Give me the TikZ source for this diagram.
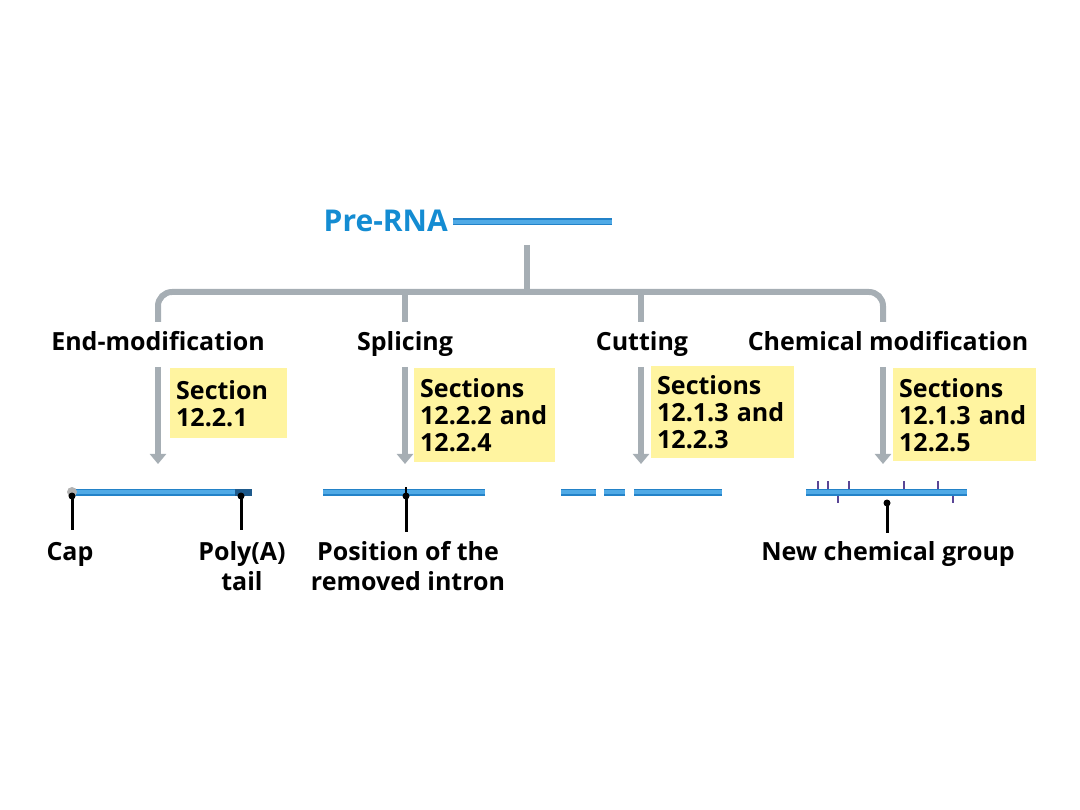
\documentclass[tikz,border=0pt]{standalone}
\usepackage{fontspec}
\setmainfont{Open Sans}
\usetikzlibrary{arrows.meta}
\definecolor{rnablue}{RGB}{35,130,200}
\definecolor{rnalight}{RGB}{80,170,230}
\definecolor{titleblue}{RGB}{20,140,210}
\definecolor{flowgray}{RGB}{166,174,180}
\definecolor{secyellow}{RGB}{255,244,160}
\definecolor{tickpurple}{RGB}{90,70,150}
\definecolor{polyadark}{RGB}{30,90,140}
\tikzset{
  lbl/.style={font=\fontsize{25}{30}\selectfont\bfseries, inner sep=0pt, anchor=base},
  secbox/.style={fill=secyellow, anchor=north west, align=left, inner xsep=6pt, inner ysep=3pt,
    font=\fontsize{25}{27}\selectfont\bfseries, text width=#1},
  flow/.style={draw=flowgray, line width=6pt},
  flowarrow/.style={draw=flowgray, line width=6pt, -{Triangle[width=16pt,length=10pt]}},
  pin/.style={line width=3pt, black},
}
\newcommand{\rnastrand}[2]{%
  \draw[rnablue, line width=7pt] (#1) -- (#2);
  \draw[rnalight, line width=3.5pt] (#1) -- (#2);}
\begin{document}
\begin{tikzpicture}[x=1pt,y=-1pt]
\useasboundingbox (0,0) rectangle (1080,810);
% title
\node[lbl, font=\fontsize{30}{32}\selectfont\bfseries, text=titleblue, anchor=base east] (pre) at (448,232) {Pre-RNA};
\coordinate (preA) at (453,222);
\coordinate (preB) at (612,222);
\rnastrand{preA}{preB}
% tree
\coordinate (root) at (527,245);
\coordinate (hub) at (527,292);
\draw[flow] (root) -- (hub);
\coordinate (b1) at (158,322);
\coordinate (b2) at (405,322);
\coordinate (b3) at (641,322);
\coordinate (b4) at (883,322);
\draw[flow, rounded corners=14pt] (b1) |- (hub) -| (b4);
\draw[flow] (405,292) -- (b2);
\draw[flow] (641,292) -- (b3);
% labels
\node[lbl] (l1) at (158,351) {End-modification};
\node[lbl] (l2) at (405,351) {Splicing};
\node[lbl] (l3) at (642,351) {Cutting};
\node[lbl] (l4) at (888,351) {Chemical modification};
% arrows
\coordinate (a1s) at (158,367); \coordinate (a1e) at (158,464);
\coordinate (a2s) at (405,367); \coordinate (a2e) at (405,464);
\coordinate (a3s) at (641,367); \coordinate (a3e) at (641,464);
\coordinate (a4s) at (883,367); \coordinate (a4e) at (883,464);
\draw[flowarrow] (a1s) -- (a1e);
\draw[flowarrow] (a2s) -- (a2e);
\draw[flowarrow] (a3s) -- (a3e);
\draw[flowarrow] (a4s) -- (a4e);
% section boxes
\node[secbox=105pt, minimum height=70pt] (s1) at (170,368) {Section\\12.2.1};
\node[secbox=129pt, minimum height=94pt] (s2) at (414,368) {Sections\\12.2.2 and\\12.2.4};
\node[secbox=131pt, minimum height=92pt] (s3) at (651,366) {Sections\\12.1.3 and\\12.2.3};
\node[secbox=131pt, minimum height=93pt] (s4) at (893,368) {Sections\\12.1.3 and\\12.2.5};
% strand 1: end modification
\coordinate (r1a) at (70,492); \coordinate (r1b) at (252,492);
\rnastrand{r1a}{r1b}
\fill[polyadark] (235,488.5) rectangle (252,495.5);
\fill[gray!60] (72,492) circle (5pt);
\coordinate (capTop) at (72,496); \coordinate (capBot) at (72,530);
\coordinate (polTop) at (241,496); \coordinate (polBot) at (241,530);
\draw[pin] (capTop) -- (capBot); \fill (capTop) circle (3.5pt);
\draw[pin] (polTop) -- (polBot); \fill (polTop) circle (3.5pt);
\node[lbl] (cap) at (70,560) {Cap};
\node[lbl, align=center, anchor=north] (polya) at (242,541) {Poly(A)\\tail};
% strand 2: splicing
\coordinate (r2a) at (323,492); \coordinate (r2b) at (485,492);
\rnastrand{r2a}{r2b}
\coordinate (intTop) at (406,496); \coordinate (intBot) at (406,532);
\draw[line width=1.2pt] (406,487) -- (406,496);
\draw[pin] (intTop) -- (intBot); \fill (intTop) circle (3.5pt);
\node[lbl, align=center, anchor=north] (intron) at (408,541) {Position of the\\removed intron};
% strand 3: cutting
\coordinate (c1a) at (561,492); \coordinate (c1b) at (596,492);
\coordinate (c2a) at (604,492); \coordinate (c2b) at (625,492);
\coordinate (c3a) at (634,492); \coordinate (c3b) at (722,492);
\rnastrand{c1a}{c1b}
\rnastrand{c2a}{c2b}
\rnastrand{c3a}{c3b}
% strand 4: chemical modification
\coordinate (r4a) at (806,492); \coordinate (r4b) at (967,492);
\foreach \x in {818,828,849,904,938} \draw[tickpurple, line width=2pt] (\x,481) -- (\x,489);
\foreach \x in {838,953} \draw[tickpurple, line width=2pt] (\x,495) -- (\x,503);
\rnastrand{r4a}{r4b}
\coordinate (chTop) at (887,503); \coordinate (chBot) at (887,533);
\draw[pin] (chTop) -- (chBot); \fill (chTop) circle (3.5pt);
\node[lbl] (newgrp) at (888,560) {New chemical group};
\end{tikzpicture}
\end{document}
